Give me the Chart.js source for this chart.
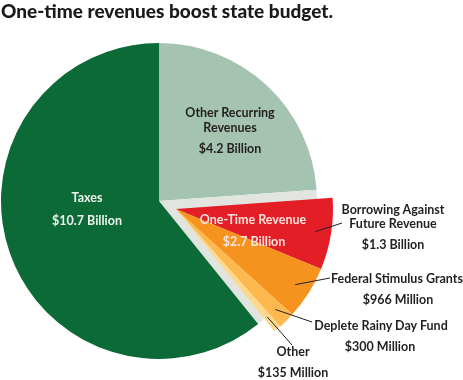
<!DOCTYPE html>
<html><head><meta charset="utf-8">
<script src="https://cdn.jsdelivr.net/npm/chart.js@4.4.1/dist/chart.umd.min.js"></script>
<style>
html,body{margin:0;padding:0;background:#fff;width:463px;height:380px;overflow:hidden}
#wrap{position:relative;width:463px;height:380px}
canvas{position:absolute;left:0;top:0}
.t{position:absolute;font-family:Lato,"Open Sans",sans-serif;font-weight:700;white-space:nowrap;transform:translate(-50%,-50%);line-height:1;font-size:12.5px;color:#231f20;text-align:center}
#title{position:absolute;left:1px;top:1px;font-family:Lato,sans-serif;font-weight:900;font-size:19px;color:#1a1a1a;white-space:nowrap;line-height:1}
</style></head>
<body><div id="wrap">
<canvas id="c1" width="463" height="380"></canvas>
<canvas id="c2" width="463" height="380"></canvas>
<div id="title">One-time revenues boost state budget.</div>
</div>
<script>
// ---- data ----
const mainCategories = ['Other Recurring Revenues', 'One-Time Revenue', 'Taxes'];
const mainValues = [4.2, 2.7, 10.7];          // billions
const mainValueLabels = ['$4.2 Billion', '$2.7 Billion', '$10.7 Billion'];
const oneTimeCategories = ['Borrowing Against Future Revenue', 'Federal Stimulus Grants', 'Deplete Rainy Day Fund', 'Other'];
const oneTimeValues = [1.3, 0.966, 0.3, 0.135]; // billions
const oneTimeValueLabels = ['$1.3 Billion', '$966 Million', '$300 Million', '$135 Million'];

// ---- styles ----
const mainColors = ['#a4c3b1', '#e2e5df', '#0b6a36'];
const oneTimeColors = ['#e31e26', '#f6921e', '#fdb94d', '#fed98b'];

const base = {
  responsive: false, animation: false, events: [],
  plugins: { legend: { display: false }, tooltip: { enabled: false } }
};

const c1 = new Chart(document.getElementById('c1'), {
  type: 'pie',
  data: { labels: mainCategories, datasets: [{ data: mainValues, backgroundColor: mainColors, borderWidth: 0 }] },
  options: Object.assign({}, base, {
    radius: 158,
    layout: { padding: { left: 0, right: 463 - 318, top: 22, bottom: 0 } }
  })
});

// One-time slices drawn as an exploded group: same pie layout, shifted centre
const recurringIdx = 0, taxesIdx = 2;
const explodedValues = [mainValues[recurringIdx], ...oneTimeValues, mainValues[taxesIdx]];
const explodedColors = ['rgba(0,0,0,0)', ...oneTimeColors, 'rgba(0,0,0,0)'];

const leaderEnds = [[342, 223], [330, 278], [312, 322], [292, 345]];
const leaderPlugin = {
  id: 'leaders',
  afterDatasetsDraw(chart) {
    const ctx = chart.ctx;
    const arcs = chart.getDatasetMeta(0).data;
    ctx.save();
    ctx.strokeStyle = '#231f20';
    ctx.lineWidth = 1;
    oneTimeValues.forEach((v, i) => {
      const a = arcs[i + 1];
      const mid = (a.startAngle + a.endAngle) / 2;
      const r = a.outerRadius * 0.9;
      const sx = a.x + Math.cos(mid) * r, sy = a.y + Math.sin(mid) * r;
      ctx.beginPath();
      ctx.moveTo(sx, sy);
      ctx.lineTo(leaderEnds[i][0], leaderEnds[i][1]);
      ctx.stroke();
    });
    ctx.restore();
  }
};

const c2 = new Chart(document.getElementById('c2'), {
  type: 'pie',
  data: { labels: ['', ...oneTimeCategories, ''], datasets: [{ data: explodedValues, backgroundColor: explodedColors, borderWidth: 0 }] },
  options: Object.assign({}, base, {
    radius: 157,
    layout: { padding: { left: 0, right: 463 - 352, top: 38, bottom: 0 } }
  }),
  plugins: [leaderPlugin]
});

// ---- text labels ----
const wrap = document.getElementById('wrap');
function label(text, x, y, extra) {
  const d = document.createElement('div');
  d.className = 't';
  d.textContent = text;
  d.style.left = x + 'px';
  d.style.top = y + 'px';
  if (extra) Object.assign(d.style, extra);
  wrap.appendChild(d);
}
const white = { color: '#eef3ef' };
label(mainCategories[2], 87, 198, white);
label(mainValueLabels[2], 87, 221, white);
label('Other Recurring', 230, 113);
label('Revenues', 230, 128);
label(mainValueLabels[0], 230, 149);
const pink = { color: '#fde4dc' };
label(mainCategories[1], 253, 220, pink);
label(mainValueLabels[1], 254, 242, pink);
label('Borrowing Against', 393, 210);
label('Future Revenue', 393, 224);
label(oneTimeValueLabels[0], 393, 245);
label(oneTimeCategories[1], 397, 279);
label(oneTimeValueLabels[1], 398, 300);
label(oneTimeCategories[2], 381, 326);
label(oneTimeValueLabels[2], 380, 347);
label(oneTimeCategories[3], 293, 352);
label(oneTimeValueLabels[3], 293, 373);
</script>
</body></html>
